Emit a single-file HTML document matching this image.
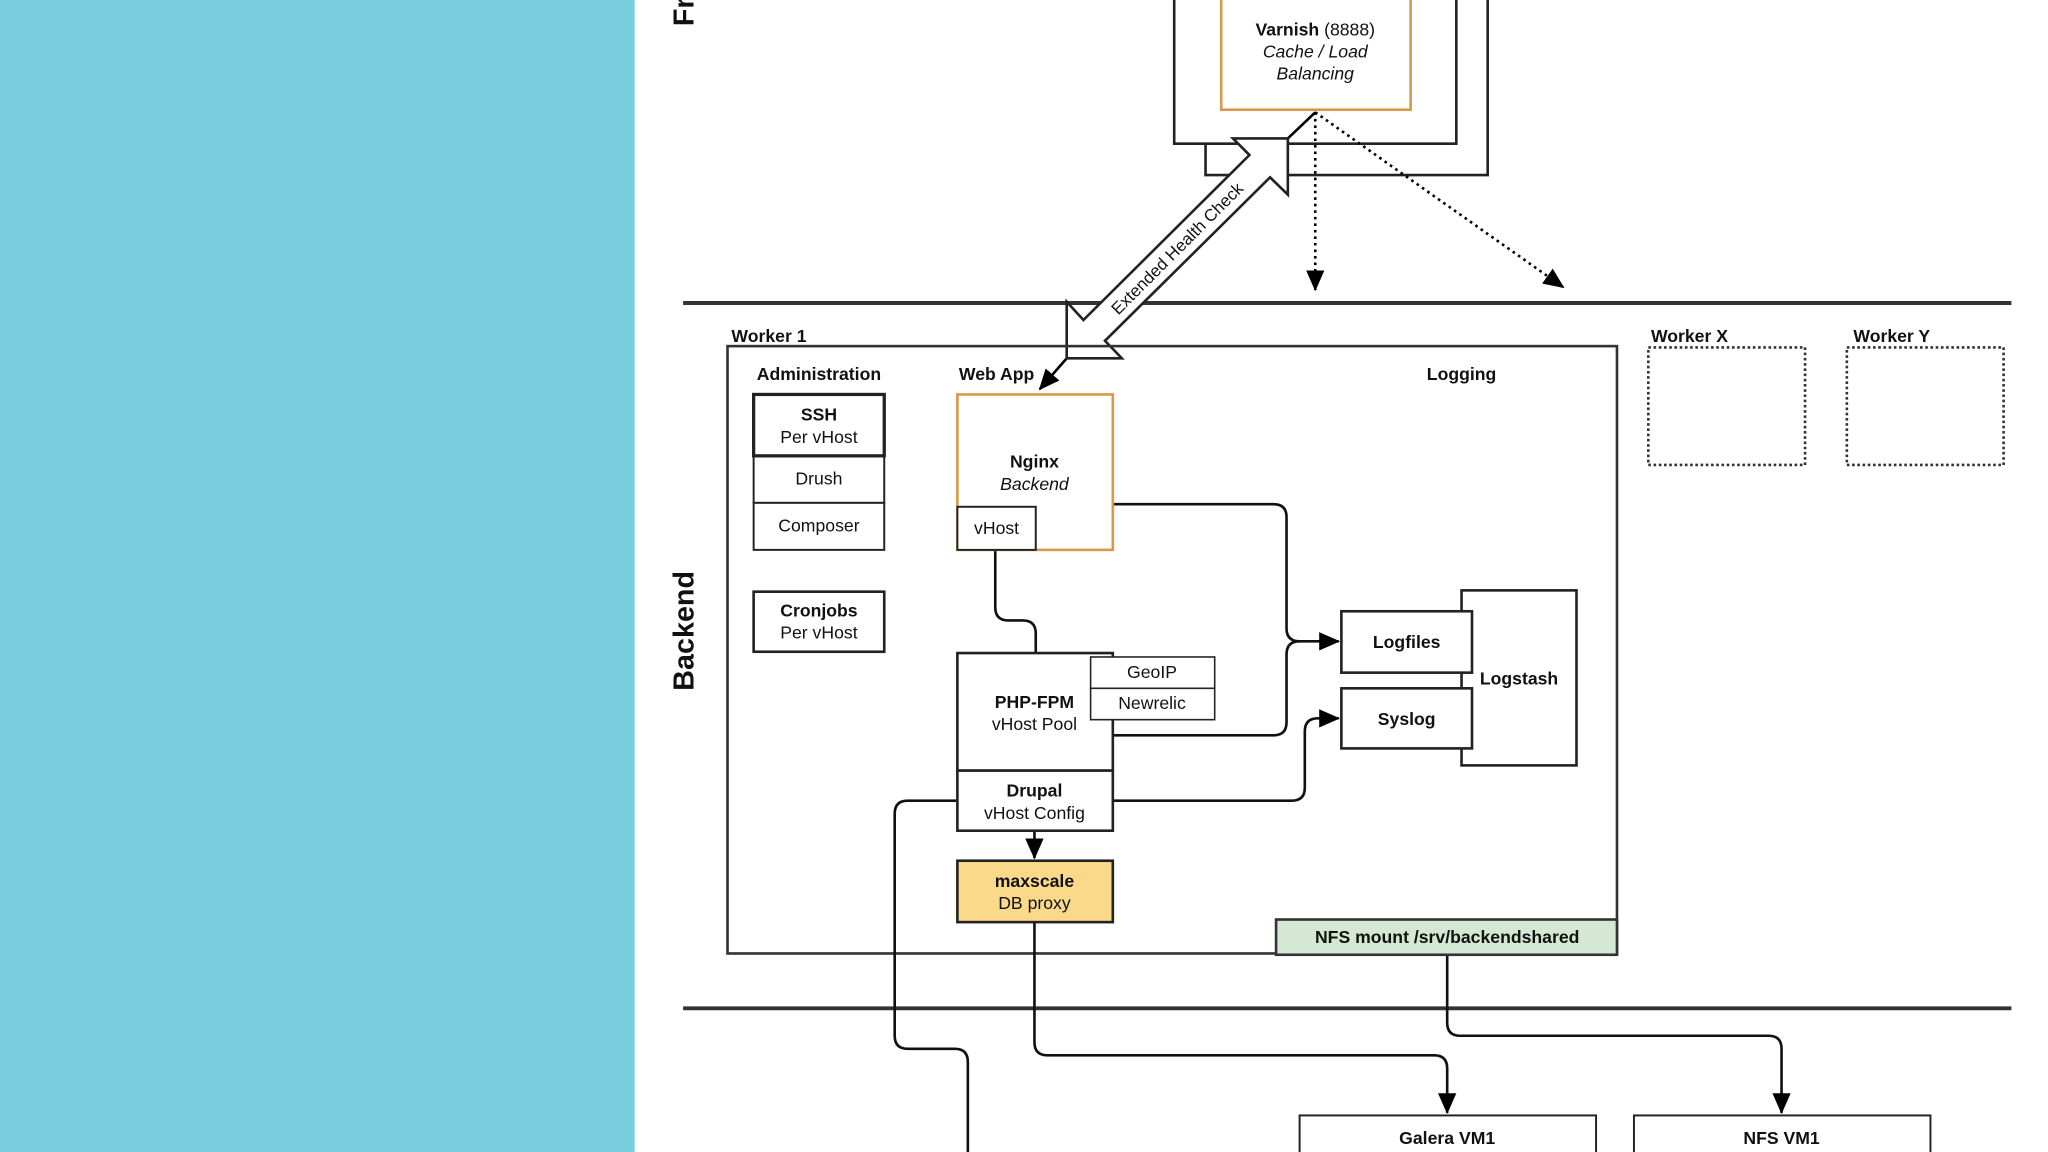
<!DOCTYPE html>
<html><head><meta charset="utf-8"><style>
html,body{margin:0;padding:0;background:#fff;overflow:hidden}
svg{display:block}
text{font-family:"Liberation Sans",Arial,sans-serif;fill:#111}
.b{font-weight:bold}
</style></head><body>
<svg width="2048" height="1152" viewBox="0 0 1568 882" xmlns="http://www.w3.org/2000/svg">
<defs>
<marker id="ar" markerWidth="10" markerHeight="10" refX="9" refY="5" orient="auto" markerUnits="userSpaceOnUse"><path d="M0,0 L10,5 L0,10 z" fill="#000"/></marker>
<marker id="ar2" markerWidth="16" markerHeight="14" refX="15" refY="7" orient="auto" markerUnits="userSpaceOnUse"><path d="M0,0 L16,7 L0,14 z" fill="#000"/></marker>
</defs>
<rect x="0" y="0" width="486" height="882" fill="#79CFE0"/>
<rect x="486" y="0" width="1082" height="882" fill="#fff"/>

<g stroke="#222" stroke-width="2" fill="none">
<!-- frontend stacked boxes -->
<path d="M923,-5 V134 H1139 V-5"/>
<rect x="899" y="-5" width="216" height="115" fill="#fff"/>
</g>
<rect x="935" y="-5" width="145" height="89" fill="#fff" stroke="#D69A4A" stroke-width="2"/>
<text x="1007" y="27" text-anchor="middle" font-size="13.5"><tspan class="b">Varnish</tspan> (8888)</text>
<text x="1007" y="44" text-anchor="middle" font-size="13.5" font-style="italic">Cache / Load</text>
<text x="1007" y="61" text-anchor="middle" font-size="13.5" font-style="italic">Balancing</text>

<text transform="translate(531,20) rotate(-90)" font-size="22" class="b">Fr</text>
<text transform="translate(531,483) rotate(-90)" font-size="22" class="b" text-anchor="middle">Backend</text>

<!-- horizontal rules -->
<line x1="523" y1="232" x2="1540" y2="232" stroke="#333" stroke-width="3"/>
<line x1="523" y1="772" x2="1540" y2="772" stroke="#333" stroke-width="3"/>

<!-- dotted arrows -->
<line x1="1007" y1="86" x2="1007" y2="222" stroke="#000" stroke-width="2" stroke-dasharray="2,3" marker-end="url(#ar2)"/>
<line x1="1007" y1="86" x2="1197" y2="220" stroke="#000" stroke-width="2" stroke-dasharray="2,3" marker-end="url(#ar2)"/>
<line x1="1007" y1="86" x2="986" y2="106" stroke="#000" stroke-width="2"/>
<line x1="817" y1="274" x2="796" y2="298" stroke="#000" stroke-width="2" marker-end="url(#ar2)"/>

<!-- block double arrow -->
<polygon points="986,106 944,106 956.6,118.7 829.5,245 816.7,231 816.7,274.3 858.9,274.3 846,260.9 972.4,135.8 986,149" fill="#fff" stroke="#222" stroke-width="2"/>
<text transform="translate(902,191) rotate(-45)" font-size="13" text-anchor="middle" dominant-baseline="middle">Extended Health Check</text>

<!-- worker 1 -->
<rect x="557" y="265" width="681" height="465" fill="none" stroke="#333" stroke-width="2"/>
<text x="560" y="262" font-size="13.5" class="b">Worker 1</text>
<rect x="1262" y="266" width="120" height="90" fill="none" stroke="#333" stroke-width="2" stroke-dasharray="2,2"/>
<rect x="1414" y="266" width="120" height="90" fill="none" stroke="#333" stroke-width="2" stroke-dasharray="2,2"/>
<text x="1264" y="262" font-size="13.5" class="b">Worker X</text>
<text x="1419" y="262" font-size="13.5" class="b">Worker Y</text>

<text x="627" y="291" font-size="13.5" class="b" text-anchor="middle">Administration</text>
<text x="763" y="291" font-size="13.5" class="b" text-anchor="middle">Web App</text>
<text x="1119" y="291" font-size="13.5" class="b" text-anchor="middle">Logging</text>

<g stroke="#222" stroke-width="1.5" fill="#fff">
<rect x="577" y="349" width="100" height="36"/>
<rect x="577" y="385" width="100" height="36"/>
<rect x="577" y="302" width="100" height="47" stroke-width="2.5"/>
<rect x="577" y="453" width="100" height="46" stroke-width="2"/>
</g>
<text x="627" y="322" font-size="13.5" class="b" text-anchor="middle">SSH</text>
<text x="627" y="339" font-size="13.5" text-anchor="middle">Per vHost</text>
<text x="627" y="371" font-size="13.5" text-anchor="middle">Drush</text>
<text x="627" y="407" font-size="13.5" text-anchor="middle">Composer</text>
<text x="627" y="472" font-size="13.5" class="b" text-anchor="middle">Cronjobs</text>
<text x="627" y="489" font-size="13.5" text-anchor="middle">Per vHost</text>

<!-- connectors -->
<g stroke="#111" stroke-width="2" fill="none">
<path d="M762,421 V465 Q762,475 772,475 H783 Q793,475 793,485 V500"/>
<path d="M852,386 H975 Q985,386 985,396 V481 Q985,491 995,491 H1025" marker-end="url(#ar2)"/>
<path d="M852,563 H975 Q985,563 985,553 V501 Q985,491 995,491"/>
<path d="M852,613 H989 Q999,613 999,603 V560 Q999,550 1009,550 H1025" marker-end="url(#ar2)"/>
<path d="M792,636 V657" marker-end="url(#ar2)"/>
<path d="M792,706 V798 Q792,808 802,808 H1098 Q1108,808 1108,818 V852" marker-end="url(#ar2)"/>
<path d="M1108,731 V783 Q1108,793 1118,793 H1354 Q1364,793 1364,803 V852" marker-end="url(#ar2)"/>
<path d="M733,613 H695 Q685,613 685,623 V793 Q685,803 695,803 H731 Q741,803 741,813 V882"/>
</g>

<!-- web app boxes -->
<rect x="733" y="302" width="119" height="119" fill="#fff" stroke="#D69A4A" stroke-width="2"/>
<text x="792" y="358" font-size="13.5" class="b" text-anchor="middle">Nginx</text>
<text x="792" y="375" font-size="13.5" font-style="italic" text-anchor="middle">Backend</text>
<rect x="733" y="388" width="60" height="33" fill="#fff" stroke="#222" stroke-width="1.5"/>
<text x="763" y="409" font-size="13.5" text-anchor="middle">vHost</text>

<rect x="733" y="500" width="119" height="90" fill="#fff" stroke="#222" stroke-width="2"/>
<text x="792" y="542" font-size="13.5" class="b" text-anchor="middle">PHP-FPM</text>
<text x="792" y="559" font-size="13.5" text-anchor="middle">vHost Pool</text>
<rect x="835" y="503" width="95" height="24" fill="#fff" stroke="#222" stroke-width="1.2"/>
<rect x="835" y="527" width="95" height="24" fill="#fff" stroke="#222" stroke-width="1.2"/>
<text x="882" y="519" font-size="13.5" text-anchor="middle">GeoIP</text>
<text x="882" y="543" font-size="13.5" text-anchor="middle">Newrelic</text>
<rect x="733" y="590" width="119" height="46" fill="#fff" stroke="#222" stroke-width="2"/>
<text x="792" y="610" font-size="13.5" class="b" text-anchor="middle">Drupal</text>
<text x="792" y="627" font-size="13.5" text-anchor="middle">vHost Config</text>
<rect x="733" y="659" width="119" height="47" fill="#FAD98A" stroke="#222" stroke-width="2"/>
<text x="792" y="679" font-size="13.5" class="b" text-anchor="middle">maxscale</text>
<text x="792" y="696" font-size="13.5" text-anchor="middle">DB proxy</text>

<!-- logging -->
<rect x="1119" y="452" width="88" height="134" fill="#fff" stroke="#222" stroke-width="2"/>
<text x="1163" y="524" font-size="13.5" class="b" text-anchor="middle">Logstash</text>
<rect x="1027" y="468" width="100" height="47" fill="#fff" stroke="#222" stroke-width="2"/>
<rect x="1027" y="527" width="100" height="46" fill="#fff" stroke="#222" stroke-width="2"/>
<text x="1077" y="496" font-size="13.5" class="b" text-anchor="middle">Logfiles</text>
<text x="1077" y="555" font-size="13.5" class="b" text-anchor="middle">Syslog</text>

<rect x="977" y="704" width="261" height="27" fill="#D5E8D4" stroke="#333" stroke-width="2"/>
<text x="1108" y="722" font-size="13.5" class="b" text-anchor="middle">NFS mount /srv/backendshared</text>

<rect x="995" y="854" width="227" height="40" fill="#fff" stroke="#222" stroke-width="1.5"/>
<rect x="1251" y="854" width="227" height="40" fill="#fff" stroke="#222" stroke-width="1.5"/>
<text x="1108" y="876" font-size="13.5" class="b" text-anchor="middle">Galera VM1</text>
<text x="1364" y="876" font-size="13.5" class="b" text-anchor="middle">NFS VM1</text>
</svg>
</body></html>
